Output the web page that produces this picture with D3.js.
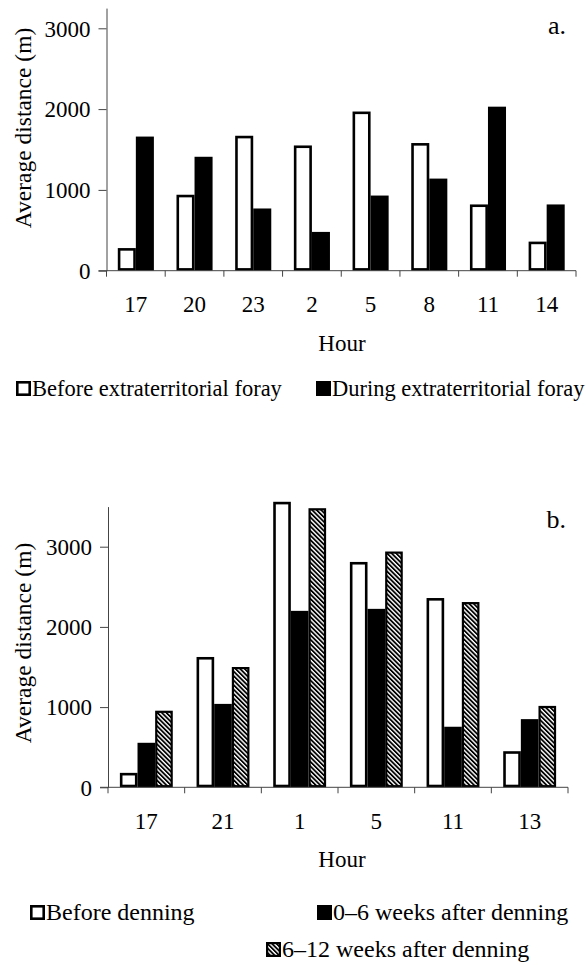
<!DOCTYPE html>
<html>
<head>
<meta charset="utf-8">
<script src="https://cdn.jsdelivr.net/npm/d3@7"></script>
<style>
  html, body { margin: 0; padding: 0; background: #fff; }
  svg { display: block; }
  text { font-family: "Liberation Serif", "Times New Roman", serif; fill: #000; }
</style>
</head>
<body>
<svg id="chart" width="586" height="965"></svg>
<script>
// ---------- data ----------
const hoursA = ["17", "20", "23", "2", "5", "8", "11", "14"];
const beforeForay = [280, 940, 1670, 1550, 1970, 1580, 820, 360];
const duringForay = [1660, 1410, 770, 480, 930, 1140, 2030, 820];

const hoursB = ["17", "21", "1", "5", "11", "13"];
const beforeDenning = [180, 1625, 3560, 2810, 2360, 450];
const weeks0to6 = [555, 1040, 2200, 2225, 755, 850];
const weeks6to12 = [955, 1500, 3480, 2940, 2310, 1015];

const yTickValues = [0, 1000, 2000, 3000];
const seriesNamesA = ["Before extraterritorial foray", "During extraterritorial foray"];
const seriesNamesB = ["Before denning", "0\u20136 weeks after denning", "6\u201312 weeks after denning"];

// ---------- setup ----------
const FONT = "'Liberation Serif', 'Times New Roman', serif";
const svg = d3.select("#chart");
const defs = svg.append("defs");
const pat = defs.append("pattern")
  .attr("id", "hatch")
  .attr("patternUnits", "userSpaceOnUse")
  .attr("width", 3.2).attr("height", 3.2)
  .attr("patternTransform", "rotate(-45)");
pat.append("rect").attr("width", 3.2).attr("height", 3.2).attr("fill", "#fff");
pat.append("line").attr("x1", 0.9).attr("y1", 0).attr("x2", 0.9).attr("y2", 3.2)
  .attr("stroke", "#000").attr("stroke-width", 1.8);

const styles = {
  open:  { fill: "#fff", stroke: "#000", sw: 2.6 },
  solid: { fill: "#000", stroke: "#000", sw: 0 },
  hatch: { fill: "url(#hatch)", stroke: "#000", sw: 2.2 }
};

function styleRect(sel, st) {
  sel.attr("fill", st.fill)
     .attr("stroke", st.sw ? st.stroke : "none")
     .attr("stroke-width", st.sw);
}

function drawPanel(cfg) {
  const g = svg.append("g");
  const x = d3.scaleBand().domain(cfg.cats).range(cfg.xRange).padding(0);
  const y = d3.scaleLinear().domain([0, cfg.yMax]).range(cfg.yRange);
  const groupW = x.bandwidth() * cfg.groupFrac;
  const x1 = d3.scaleBand().domain(d3.range(cfg.series.length)).range([0, groupW]).padding(0);
  const off = (x.bandwidth() - groupW) / 2;

  // bars
  cfg.series.forEach((vals, si) => {
    const st = styles[cfg.styles[si]];
    const inset = st.sw / 2;
    const bars = g.append("g").selectAll("rect")
      .data(vals.map((v, i) => ({ cat: cfg.cats[i], v })))
      .join("rect")
      .attr("x", d => x(d.cat) + off + x1(si) + inset)
      .attr("width", x1.bandwidth() - 2 * inset)
      .attr("y", d => y(d.v) + inset)
      .attr("height", d => y(0) - y(d.v) - 2 * inset);
    styleRect(bars, st);
  });

  // y axis
  const yAxis = d3.axisLeft(y).tickValues(yTickValues).tickSize(8).tickSizeOuter(0).tickPadding(8)
    .tickFormat(d3.format("d"));
  const ya = g.append("g").attr("transform", `translate(${cfg.xRange[0]},0)`).call(yAxis);
  ya.select(".domain").attr("stroke", "#444").attr("stroke-width", 1);
  ya.selectAll(".tick line").attr("stroke", "#444");
  ya.selectAll(".tick text").style("font-size", "23px").attr("dy", "0.34em")
    .style("font-family", FONT).attr("fill", "#000");

  // x axis line with ticks at category boundaries
  const y0 = y(0);
  g.append("line").attr("x1", cfg.xRange[0] - 8).attr("x2", cfg.xRange[1])
    .attr("y1", y0).attr("y2", y0).attr("stroke", "#444").attr("stroke-width", 1);
  const bounds = cfg.cats.map(c => x(c)).concat([x.range()[1]]);
  g.append("g").selectAll("line").data(bounds).join("line")
    .attr("x1", d => d).attr("x2", d => d)
    .attr("y1", y0).attr("y2", y0 + 6)
    .attr("stroke", "#444").attr("stroke-width", 1);

  // x tick labels
  const xAxis = d3.axisBottom(x).tickSize(0).tickPadding(cfg.xLabelPad);
  const xa = g.append("g").attr("transform", `translate(0,${y0})`).call(xAxis);
  xa.select(".domain").remove();
  xa.selectAll(".tick text").style("font-size", "23px")
    .style("font-family", FONT).attr("fill", "#000");

  // x title
  g.append("text").attr("x", cfg.xTitlePos[0]).attr("y", cfg.xTitlePos[1])
    .attr("text-anchor", "middle").style("font-size", "23px").text("Hour");

  // y title
  g.append("text")
    .attr("transform", `translate(${cfg.yTitlePos[0]},${cfg.yTitlePos[1]}) rotate(-90)`)
    .attr("text-anchor", "middle").style("font-size", "23.5px").text("Average distance (m)");

  // panel letter
  g.append("text").attr("x", cfg.letterPos[0]).attr("y", cfg.letterPos[1])
    .attr("text-anchor", "end").style("font-size", "26px").text(cfg.letter);

  // legend
  cfg.legend.forEach((item, i) => {
    const st = styles[cfg.styles[i]];
    const lg = g.append("g").attr("transform", `translate(${item[0]},${item[1]})`);
    const box = lg.append("rect").attr("x", st.sw / 2).attr("y", -15 + st.sw / 2)
      .attr("width", 15 - st.sw).attr("height", 15 - st.sw);
    styleRect(box, st);
    lg.append("text").attr("x", 16).attr("y", 0).style("font-size", cfg.legendFont).text(cfg.names[i]);
  });
}

drawPanel({
  cats: hoursA,
  series: [beforeForay, duringForay],
  names: seriesNamesA,
  styles: ["open", "solid"],
  xRange: [106.5, 576],
  yRange: [270.7, 8.1],
  yMax: 3250,
  groupFrac: 0.615,
  xLabelPad: 25,
  xTitlePos: [342, 351],
  yTitlePos: [31, 128],
  letter: "a.",
  letterPos: [566, 34],
  legendFont: "22.5px",
  legend: [[16, 396], [316, 396]]
});

drawPanel({
  cats: hoursB,
  series: [beforeDenning, weeks0to6, weeks6to12],
  names: seriesNamesB,
  styles: ["open", "solid", "hatch"],
  xRange: [108, 568],
  yRange: [787.3, 506.6],
  yMax: 3500,
  groupFrac: 0.69,
  xLabelPad: 25,
  xTitlePos: [342, 867],
  yTitlePos: [31, 643],
  letter: "b.",
  letterPos: [566, 528],
  legendFont: "24px",
  legend: [[30, 920], [317, 920], [266, 957]]
});
</script>
</body>
</html>
